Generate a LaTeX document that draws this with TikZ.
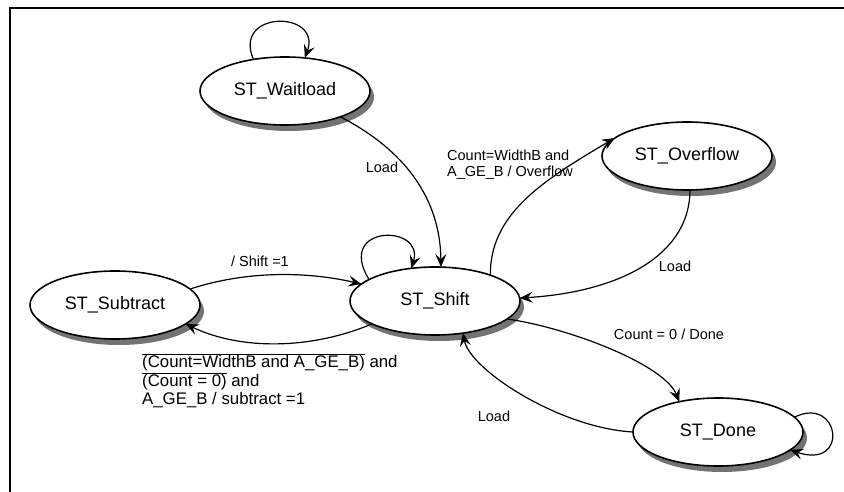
\documentclass[tikz,border=0pt]{standalone}
\usepackage{fontspec}
\setmainfont{Liberation Sans}
\usetikzlibrary{shapes.geometric,arrows.meta,shadows}
\tikzset{
  statenode/.style={ellipse, draw, line width=1.6pt, fill=white, minimum width=170pt, minimum height=68pt, inner sep=0pt, outer sep=0pt,
    font=\fontsize{18}{20}\selectfont,
    drop shadow={shadow xshift=4pt, shadow yshift=-6pt, fill=black!55, opacity=1}},
  trans/.style={line width=1.2pt, -{Stealth[length=13pt,width=11pt,inset=5pt]}},
  lbl/.style={font=\fontsize{14.5}{16}\selectfont, inner sep=0pt},
  biglbl/.style={font=\fontsize{16.8}{17.6}\selectfont, inner sep=0pt, align=left},
  frameline/.style={line width=2.5pt}
}
\begin{document}
\begin{tikzpicture}[x=1pt,y=-1pt]
\useasboundingbox (0,0) rectangle (844,492);
\coordinate (fa) at (10,492);
\coordinate (fb) at (10,8);
\coordinate (fc) at (844,8);
\draw[frameline] (fa) -- (fb) -- (fc);

\node[statenode] (W) at (285,91) {ST\_Waitload};
\node[statenode] (O) at (687,156) {ST\_Overflow};
\node[statenode] (S) at (435,301) {ST\_Shift};
\node[statenode] (U) at (115,305) {ST\_Subtract};
\node[statenode] (D) at (718,432) {ST\_Done};

% self loops
\draw[trans] (W.135) .. controls (232,10) and (322,10) .. (W.59);
\draw[trans] (S.162) .. controls (335,224) and (425,224) .. (S.126);
\draw[trans] (D.11) .. controls (840,395) and (850,470) .. (D.-14);

% transitions
\draw[trans] (W.-25) .. controls (395,145) and (440,190) .. (S.80);
\draw[trans] (U.12) .. controls (245,271) and (305,271) .. (S.167);
\draw[trans] (S.200) .. controls (310,350) and (240,350) .. (U.-15);
\draw[trans] (S.25) .. controls (490,215) and (540,182) .. (O.166);
\draw[trans] (O.-85) .. controls (690,255) and (620,292) .. (S.2);
\draw[trans] (S.-14) .. controls (570,328) and (665,365) .. (D.142);
\draw[trans] (D.180) .. controls (560,428) and (470,370) .. (S.-49);

% labels
\node[lbl] (l1) at (382,167) {Load};
\node[lbl] (l2) at (260,261) {/ Shift =1};
\node[lbl] (l3) at (675,266) {Load};
\node[lbl] (l4) at (669,334) {Count = 0 / Done};
\node[lbl] (l5) at (494,416) {Load};
\node[lbl, align=left, anchor=west, font=\fontsize{14.5}{15.5}\selectfont] (l6) at (447,164.5) {Count=WidthB and\\A\_GE\_B / Overflow};
\node[biglbl, anchor=west] (l7) at (142,380.5) {$\overline{\mbox{(Count=WidthB and A\_GE\_B)}}$ and\\$\overline{\mbox{(Count = 0)}}$ and\\A\_GE\_B / subtract =1};
\end{tikzpicture}
\end{document}
